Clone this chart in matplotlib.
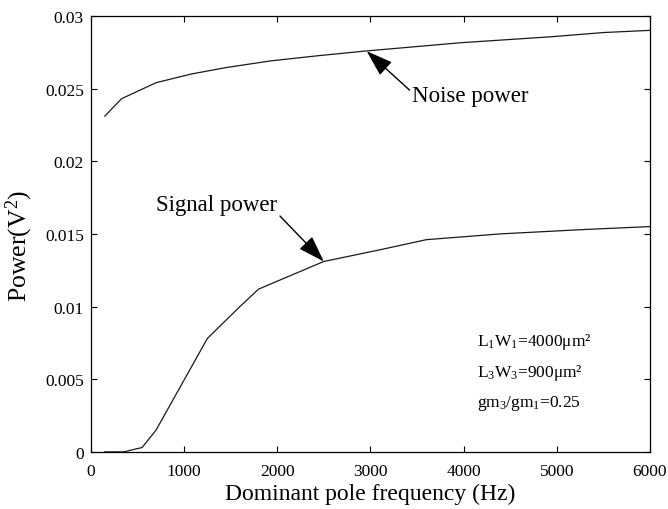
import numpy as np
import matplotlib
matplotlib.use("Agg")
import matplotlib.pyplot as plt

plt.rcParams['font.family'] = ['Liberation Serif', 'DejaVu Serif']
plt.rcParams['mathtext.fontset'] = 'custom'
plt.rcParams['mathtext.rm'] = 'Liberation Serif'
plt.rcParams['mathtext.it'] = 'Liberation Serif:italic'

# dominant pole frequency (Hz) vs power (V^2)
noise_f = [150, 330, 700, 1080, 1460, 1930, 2430, 2950, 3970, 4940, 5500, 6000]
noise_p = [0.0231, 0.0243, 0.0254, 0.0260, 0.02645, 0.0269, 0.02725, 0.02758,
           0.02815, 0.02856, 0.02885, 0.0290]

signal_f = [150, 350, 550, 700, 1250, 1600, 1800, 2500, 3100, 3600, 4400, 5300, 6000]
signal_p = [0.0, 0.0, 0.0003, 0.0015, 0.0078, 0.0100, 0.0112, 0.0131, 0.0139,
            0.0146, 0.0150, 0.0153, 0.0155]

xticks = [0, 1000, 2000, 3000, 4000, 5000, 6000]
yticks = [0, 0.005, 0.01, 0.015, 0.02, 0.025, 0.03]
ytick_labels = ['0', '0.005', '0.01', '0.015', '0.02', '0.025', '0.03']

fig = plt.figure(figsize=(6.68, 5.10), dpi=100)
ax = fig.add_axes([0.136, 0.112, 0.837, 0.855])

ax.plot(noise_f, noise_p, color='#1a1a1a', lw=0.9)
ax.plot(signal_f, signal_p, color='#1a1a1a', lw=0.9)

ax.set_xlim(0, 6000)
ax.set_ylim(0, 0.03)
ax.set_xticks(xticks)
ax.set_xticklabels([str(t) for t in xticks])
ax.set_yticks(yticks)
ax.set_yticklabels(ytick_labels)
ax.tick_params(direction='in', top=True, right=True, length=4, width=0.8,
               labelsize=12.5)
ax.tick_params(axis='x', pad=8)
ax.tick_params(axis='y', pad=5)
for s in ax.spines.values():
    s.set_linewidth(0.9)

ax.set_xlabel('Dominant pole frequency (Hz)', fontsize=17, labelpad=3)
ax.set_ylabel('Power(V$^2$)', fontsize=18.5)
ax.yaxis.set_label_coords(-0.1, 0.475)

arrow = dict(arrowstyle='-|>,head_length=0.75,head_width=0.25', color='black',
             lw=1.0, mutation_scale=22, shrinkA=0, shrinkB=0)
ax.annotate('Noise power', xy=(2960, 0.02757), xytext=(3450, 0.0245),
            fontsize=16.5, va='center', ha='left',
            arrowprops=dict(arrow, relpos=(0, 0.65)))
ax.annotate('Signal power', xy=(2500, 0.0131), xytext=(700, 0.0170),
            fontsize=16.5, va='center', ha='left',
            arrowprops=dict(arrow, relpos=(1, 0.1)))

ax.text(4140, 0.0076, 'L$_1$W$_1$=4000μm²', fontsize=12.5, va='center')
ax.text(4140, 0.0055, 'L$_3$W$_3$=900μm²', fontsize=12.5, va='center')
ax.text(4140, 0.0034, 'gm$_3$/gm$_1$=0.25', fontsize=12.5, va='center')

fig.savefig('out.png', dpi=100)
